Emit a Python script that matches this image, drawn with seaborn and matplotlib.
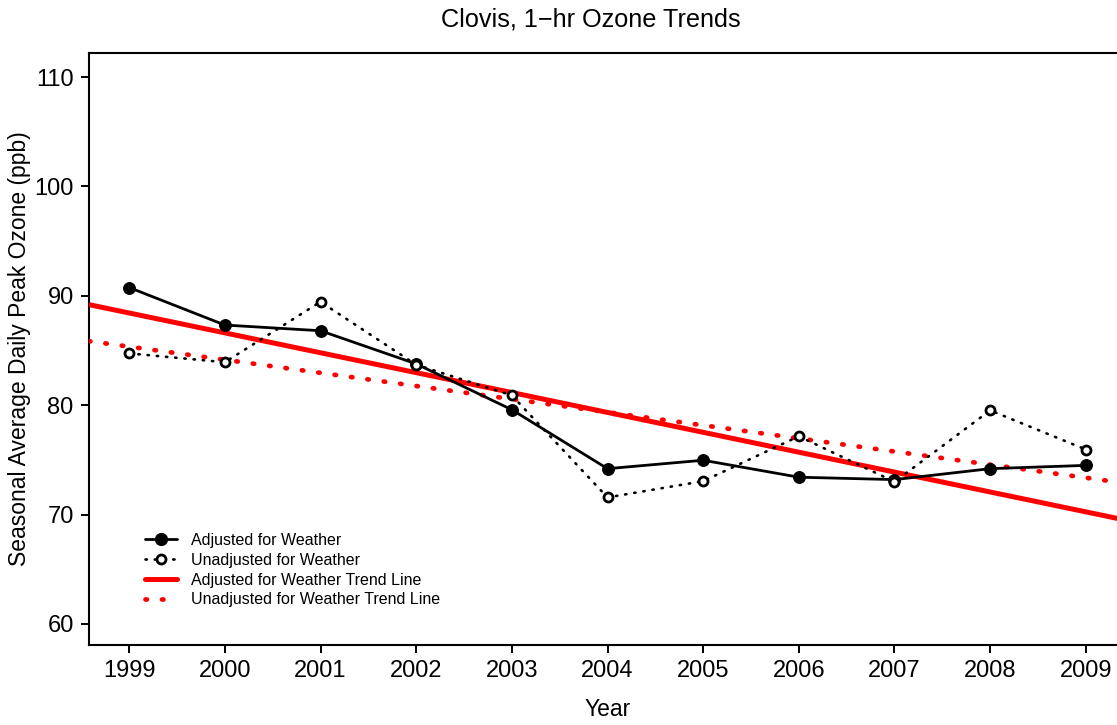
import numpy as np
import pandas as pd
import matplotlib
matplotlib.use("Agg")
import matplotlib.pyplot as plt
import seaborn as sns
from matplotlib.lines import Line2D

years = [1999, 2000, 2001, 2002, 2003, 2004, 2005, 2006, 2007, 2008, 2009]
adjusted = [90.76, 87.33, 86.81, 83.78, 79.59, 74.2, 74.97, 73.42, 73.2, 74.2, 74.5]
unadjusted = [84.74, 83.93, 89.45, 83.7, 80.9, 71.57, 73.06, 77.16, 73.0, 79.53, 75.95]
yticks = [60, 70, 80, 90, 100, 110]

title = "Clovis, 1\u2212hr Ozone Trends"
xlabel = "Year"
ylabel = "Seasonal Average Daily Peak Ozone (ppb)"
labels = ["Adjusted for Weather", "Unadjusted for Weather",
          "Adjusted for Weather Trend Line", "Unadjusted for Weather Trend Line"]

df = pd.DataFrame({"year": years, "adj": adjusted, "unadj": unadjusted})

sns.set_style("white", {"text.color": "black", "axes.labelcolor": "black",
                        "xtick.color": "black", "ytick.color": "black",
                        "axes.edgecolor": "black"})
plt.rcParams["font.family"] = ["Liberation Sans", "DejaVu Sans"]

W, H = 1117, 725
fig = plt.figure(figsize=(W / 100, H / 100), dpi=100)
L, R, B, T = 89, 1126, 645, 53
ax = fig.add_axes([L / W, (H - B) / H, (R - L) / W, (B - T) / H])

xlim = (1998.58, 2009.42)
ylim = (58.08, 112.2)
ax.set_xlim(*xlim)
ax.set_ylim(*ylim)

# trend lines (linear regression)
sns.regplot(data=df, x="year", y="adj", scatter=False, ci=None, truncate=False,
            ax=ax, line_kws=dict(color="#ff0000", lw=3.6, solid_capstyle="butt", zorder=3))
sns.regplot(data=df, x="year", y="unadj", scatter=False, ci=None, truncate=False,
            ax=ax, line_kws=dict(color="#ff0000", lw=3.4, linestyle=(0, (0.3, 3.2)),
                                 dash_capstyle="round", zorder=3))

sns.lineplot(data=df, x="year", y="adj", ax=ax, color="black", lw=2.0,
             marker="o", markersize=8.5, markerfacecolor="black",
             markeredgecolor="black", zorder=4)
sns.lineplot(data=df, x="year", y="unadj", ax=ax, color="black", lw=1.9,
             linestyle=(0, (0.5, 3.0)), dash_capstyle="round",
             marker="o", markersize=6.5, markerfacecolor="white",
             markeredgecolor="black", markeredgewidth=2.0, zorder=4)

ax.set_xlim(*xlim)
ax.set_ylim(*ylim)
ax.set_xticks(years)
ax.set_xticklabels([str(y) for y in years])
ax.set_yticks(yticks)
ax.set_yticklabels([str(v) for v in yticks])
ax.tick_params(axis="both", which="major", direction="out", length=6, width=1.4,
               labelsize=17, pad=5, color="black", labelcolor="black",
               left=True, bottom=True)
for s in ax.spines.values():
    s.set_color("black")
    s.set_linewidth(1.5)

ax.set_xlabel(xlabel, fontsize=16.5, color="black")
ax.set_ylabel(ylabel, fontsize=16.5, color="black")
ax.xaxis.set_label_coords(0.5, -(710 - B) / (B - T), transform=ax.transAxes)
ax.yaxis.set_label_coords(-(L - 20) / (R - L), 0.5, transform=ax.transAxes)
ax.xaxis.label.set_va("center")
ax.yaxis.label.set_va("center")

h_adj = Line2D([], [], color="black", lw=2.0, marker="o", markersize=8.5)
h_unadj = Line2D([], [], color="black", lw=1.9, linestyle=(0, (0.5, 3.0)),
                 dash_capstyle="round", marker="o", markersize=6.5,
                 markerfacecolor="white", markeredgewidth=2.0)
h_tadj = Line2D([], [], color="#ff0000", lw=3.6)
h_tunadj = Line2D([], [], color="#ff0000", lw=3.4, linestyle=(0, (0.3, 3.2)),
                  dash_capstyle="round")
leg = ax.legend([h_adj, h_unadj, h_tadj, h_tunadj], labels, loc="upper left",
                bbox_to_anchor=((145 - L) / (R - L), (B - 533) / (B - T)),
                frameon=False, fontsize=11.5, handlelength=2.0, handletextpad=0.9,
                labelspacing=0.3, borderpad=0, borderaxespad=0, labelcolor="black")

fig.text(591 / W, 1 - 20 / H, title, ha="center", va="center", fontsize=18.2,
         color="black")

fig.savefig("out.png", dpi=100)
